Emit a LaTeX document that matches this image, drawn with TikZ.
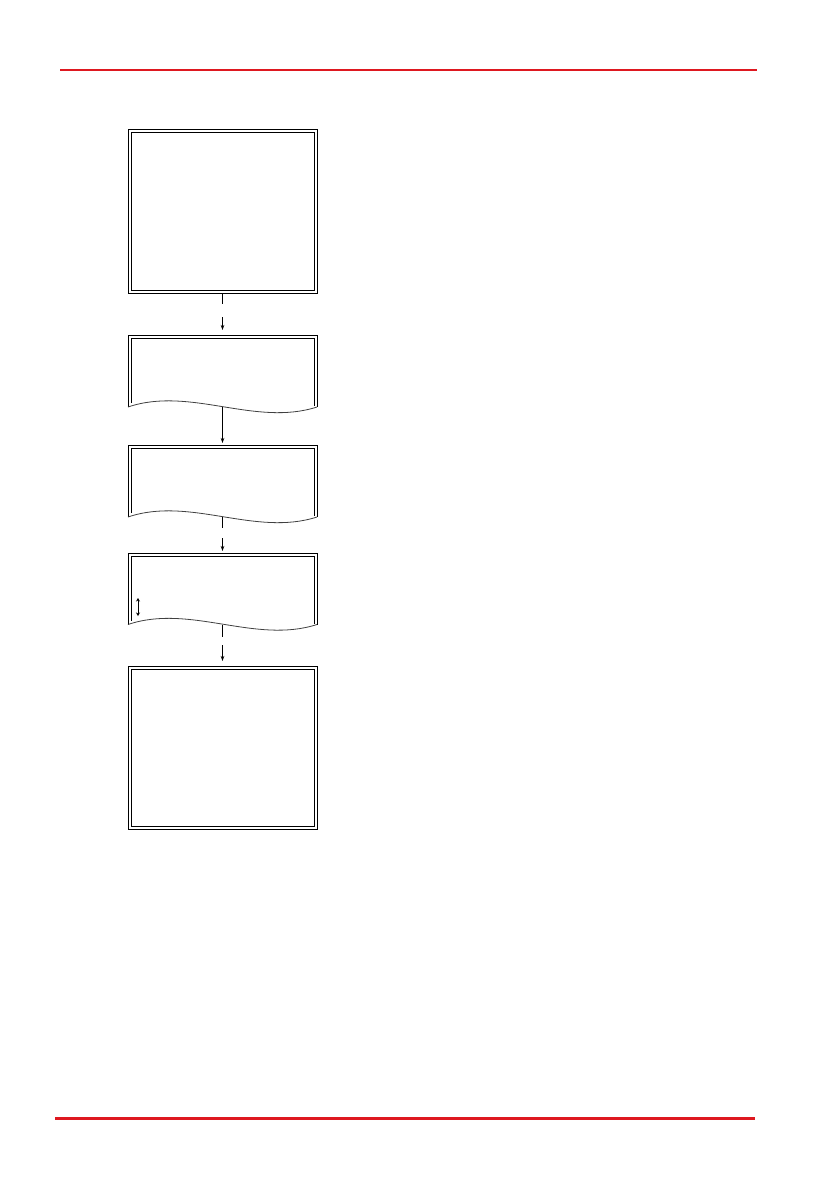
\documentclass[tikz,border=0pt]{standalone}
\usetikzlibrary{arrows.meta,calc}
\definecolor{hdrred}{RGB}{222,24,32}
\newcommand{\docshape}[3]{% #1 name, #2 top y, #3 base y
  \draw[boxline] (128,#3) -- (128,#2) -- (317,#2) -- (317,#3);
  \draw[boxline] (131,#3-4) -- (131,#2+3) -- (314,#2+3) -- (314,#3-1);
  \draw[wave] (128,#3) .. controls (190,#3-21) and (255,#3+20) .. (317,#3);
  \node[minimum width=189pt, minimum height={(#3-#2)*1pt}, inner sep=0pt, outer sep=0pt] (#1) at (222.5,{(#2+#3)/2}) {};
}
\begin{document}
\begin{tikzpicture}[x=1pt,y=-1pt,
  boxline/.style={line width=1pt, black},
  wave/.style={line width=0.8pt, black!75},
  dblbox/.style={draw, line width=1pt, double, double distance=2pt, minimum width=186pt, inner sep=0pt, outer sep=1.5pt},
  arr/.style={line width=0.7pt, -{Stealth[length=5pt,width=3.5pt]}},
  conn/.style={line width=0.7pt}]
\useasboundingbox (0,0) rectangle (839,1191);
% header / footer rules
\draw[hdrred, line width=2pt] (60,70) -- (757,70);
\draw[hdrred, line width=3pt] (55,1118) -- (755,1118);
% boxes
\node[dblbox, minimum height=161pt] (b1) at (222.5,211) {};
\docshape{b2}{335}{407}
\docshape{b3}{445}{517}
\docshape{b4}{553}{624.5}
\node[dblbox, minimum height=160pt] (b5) at (222.5,747.5) {};
% connector coordinates
\coordinate (c1a) at (222.5,304);
\coordinate (c1b) at (222.5,317);
\coordinate (c3a) at (222.5,528);
\coordinate (c3b) at (222.5,538);
\coordinate (c4a) at (222.5,637);
\coordinate (c4b) at (222.5,645);
% connectors
\draw[conn] (b1.south) -- (c1a);
\draw[arr, shorten >=5pt] (c1b) -- (b2.north);
\draw[arr, shorten >=2pt] (b2.south) -- (b3.north);
\draw[conn] (b3.south) -- (c3a);
\draw[arr, shorten >=2pt] (c3b) -- (b4.north);
\draw[conn] (b4.south) -- (c4a);
\draw[arr, shorten >=5pt] (c4b) -- (b5.north);
% small double arrow inside box 4
\draw[line width=0.6pt, {Stealth[length=3.5pt,width=4pt]}-{Stealth[length=3.5pt,width=4pt]}] (138,598) -- (138,616);
\end{tikzpicture}
\end{document}
